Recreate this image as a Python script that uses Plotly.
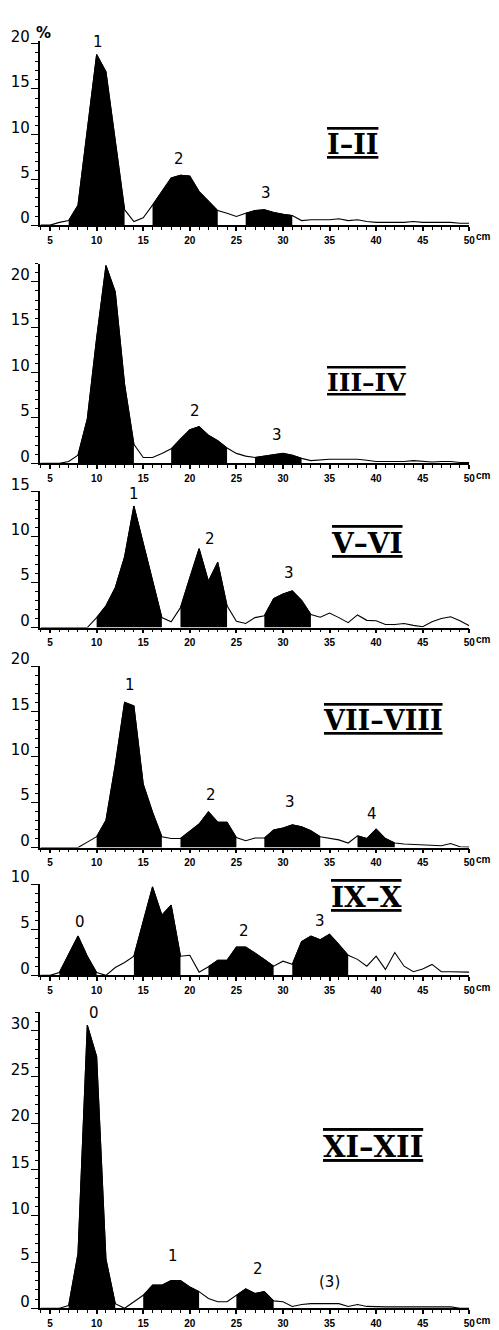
import plotly.graph_objects as go

# ---------------- data ----------------
LENGTH_CM = list(range(4, 51))  # length classes 4..50 cm

PERIODS = ["I–II", "III–IV", "V–VI", "VII–VIII", "IX–X", "XI–XII"]

pct_I_II = [0, 0, 0.3, 0.5, 2.2, 10.5, 18.8, 16.9, 9.0, 1.7, 0.4, 0.8, 2.2, 3.7, 5.2, 5.5, 5.4,
            3.7, 2.7, 1.6, 1.3, 0.95, 1.3, 1.6, 1.7, 1.4, 1.2, 1.05, 0.5, 0.6, 0.6, 0.6, 0.7,
            0.5, 0.6, 0.4, 0.3, 0.3, 0.3, 0.3, 0.4, 0.3, 0.3, 0.3, 0.3, 0.2, 0.2]
pct_III_IV = [0, 0, 0, 0.2, 0.9, 4.9, 13.8, 21.8, 18.9, 8.7, 2.1, 0.65, 0.65, 1.1, 1.6, 2.7, 3.7,
              4.05, 3.1, 2.5, 1.7, 1.1, 0.8, 0.65, 0.8, 1.0, 1.1, 0.9, 0.55, 0.3, 0.4, 0.45, 0.45,
              0.45, 0.45, 0.35, 0.2, 0.2, 0.2, 0.2, 0.3, 0.2, 0.15, 0.2, 0.2, 0.1, 0.1]
pct_V_VI = [0, 0, 0, 0, 0, 0, 1.1, 2.4, 4.4, 7.8, 13.4, 9.3, 5.2, 1.1, 0.65, 2.2, 5.5,
            8.7, 5.1, 7.2, 2.4, 0.7, 0.45, 1.1, 1.3, 3.2, 3.7, 4.05, 3.0, 1.45, 1.15, 1.6, 1.1,
            0.55, 1.4, 0.8, 0.75, 0.35, 0.35, 0.45, 0.25, 0.1, 0.65, 1.0, 1.2, 0.75, 0.2]
pct_VII_VIII = [0, 0, 0, 0, 0, 0.6, 1.2, 3.0, 9.1, 16.0, 15.6, 7.0, 3.9, 1.2, 1.0, 1.0, 1.8,
                2.6, 3.95, 2.8, 2.8, 1.1, 0.75, 1.05, 1.05, 1.95, 2.15, 2.5, 2.3, 1.85, 1.2, 1.0, 0.85,
                0.5, 1.3, 1.0, 2.05, 1.0, 0.5, 0.4, 0.35, 0.3, 0.2, 0.2, 0.45, 0.1, 0.05]
pct_IX_X = [0, 0, 0.3, 2.3, 4.3, 2.1, 0.3, 0, 0.85, 1.4, 2.1, 5.9, 9.7, 6.6, 7.7, 2.1, 2.2,
            0.35, 0.95, 1.65, 1.65, 3.1, 3.1, 2.45, 1.75, 1.0, 1.55, 1.2, 3.7, 4.3, 3.9, 4.5, 3.4,
            2.2, 1.75, 1.0, 2.1, 0.65, 2.5, 1.0, 0.4, 0.7, 1.2, 0.4, 0.4, 0.4, 0.35]
pct_XI_XII = [0, 0, 0, 0.3, 5.9, 30.6, 27.2, 5.3, 0.5, 0, 0.7, 1.4, 2.5, 2.5, 3.0, 3.0, 2.3,
              1.8, 1.05, 0.7, 0.7, 1.4, 2.1, 1.6, 1.8, 0.8, 0.7, 0.2, 0.4, 0.5, 0.5, 0.5, 0.5,
              0.2, 0.4, 0.2, 0.15, 0.15, 0.15, 0.15, 0.15, 0.15, 0.15, 0.15, 0.15, 0, 0]

# age-group (cohort) length ranges, cm, shaded black
groups_I_II = [(7, 13), (16, 23), (26, 31)]
groups_III_IV = [(8, 14), (18, 24), (27, 32)]
groups_V_VI = [(10, 17), (19, 24), (28, 33)]
groups_VII_VIII = [(10, 17), (19, 25), (28, 34), (38, 42)]
groups_IX_X = [(6, 10), (14, 19), (22, 29), (31, 37)]
groups_XI_XII = [(7, 12), (15, 21), (25, 29)]

labels_I_II = ["1", "2", "3"]
labels_III_IV = ["1", "2", "3"]
labels_V_VI = ["1", "2", "3"]
labels_VII_VIII = ["1", "2", "3", "4"]
labels_IX_X = ["0", "1", "2", "3"]
labels_XI_XII = ["0", "1", "2", "(3)"]

X_TICKS = [5, 10, 15, 20, 25, 30, 35, 40, 45, 50]

# ---------------- layout (pixels) ----------------
W, H = 499, 1330
X_LEFT_PX, X_RIGHT_PX = 40, 475
X_RANGE = [3.87, 50]

panels = [
    dict(y=pct_I_II, groups=groups_I_II, labels=labels_I_II, title=PERIODS[0],
         bottom=212, ymax=20.3, scale=9.2, yticks=[0, 5, 10, 15, 20],
         label_pos=[(10.2, 20.2), (18.8, 7.3), (28.2, 3.5)], title_px=(357, 130), title_size=27),
    dict(y=pct_III_IV, groups=groups_III_IV, labels=labels_III_IV, title=PERIODS[1],
         bottom=453.5, ymax=22, scale=9.2, yticks=[0, 5, 10, 15, 20],
         label_pos=[(11.3, 23.0), (20.6, 5.8), (29.4, 3.1)], title_px=(371, 372), title_size=25),
    dict(y=pct_V_VI, groups=groups_V_VI, labels=labels_V_VI, title=PERIODS[2],
         bottom=620, ymax=15, scale=9.2, yticks=[0, 5, 10, 15],
         label_pos=[(14.0, 14.7), (22.2, 9.8), (30.7, 6.0)], title_px=(371, 535), title_size=28),
    dict(y=pct_VII_VIII, groups=groups_VII_VIII, labels=labels_VII_VIII, title=PERIODS[3],
         bottom=843, ymax=20, scale=9.2, yticks=[0, 5, 10, 15, 20],
         label_pos=[(13.6, 17.9), (22.3, 5.8), (30.8, 5.0), (39.6, 3.7)], title_px=(388, 714), title_size=27),
    dict(y=pct_IX_X, groups=groups_IX_X, labels=labels_IX_X, title=PERIODS[4],
         bottom=972.5, ymax=10, scale=9.25, yticks=[0, 5, 10],
         label_pos=[(8.2, 5.8), (16.9, 10.3), (25.8, 4.9), (34.0, 6.0)], title_px=(371, 894), title_size=28),
    dict(y=pct_XI_XII, groups=groups_XI_XII, labels=labels_XI_XII, title=PERIODS[5],
         bottom=1310, ymax=32, scale=9.38, yticks=[0, 5, 10, 15, 20, 25, 30],
         label_pos=[(9.7, 31.9), (18.2, 5.6), (27.3, 4.2), (35.0, 2.8)], title_px=(378, 1147), title_size=29),
]

fig = go.Figure()
annotations = []
layout_axes = {}

for i, p in enumerate(panels, start=1):
    xa = "x" if i == 1 else f"x{i}"
    ya = "y" if i == 1 else f"y{i}"
    # shaded age groups
    for (a, b) in p["groups"]:
        xs = [x for x in LENGTH_CM if a <= x <= b]
        ys = [v for x, v in zip(LENGTH_CM, p["y"]) if a <= x <= b]
        fig.add_trace(go.Scatter(x=xs, y=ys, mode="lines", fill="tozeroy",
                                 fillcolor="black", line=dict(color="black", width=1),
                                 xaxis=xa, yaxis=ya, showlegend=False, hoverinfo="skip"))
    # frequency polygon
    fig.add_trace(go.Scatter(x=LENGTH_CM, y=p["y"], mode="lines",
                             line=dict(color="black", width=1.1),
                             xaxis=xa, yaxis=ya, showlegend=False))

    top_px = p["bottom"] - p["ymax"] * p["scale"]
    dom = [1 - p["bottom"] / H, 1 - top_px / H]
    xkey = "xaxis" if i == 1 else f"xaxis{i}"
    ykey = "yaxis" if i == 1 else f"yaxis{i}"
    layout_axes[xkey] = dict(
        domain=[X_LEFT_PX / W, X_RIGHT_PX / W], range=X_RANGE, anchor=ya,
        showgrid=False, zeroline=False, showline=True, linecolor="black", linewidth=1.6,
        tickmode="array", tickvals=X_TICKS, ticktext=[str(t) for t in X_TICKS],
        ticks="outside", ticklen=4, tickwidth=1.5, tickcolor="black",
        minor=dict(dtick=1, tick0=0, ticks="outside", ticklen=3, tickwidth=1.3, tickcolor="black"),
        tickfont=dict(family="Liberation Sans", size=10, color="black", weight="bold"),
        ticklabelstandoff=1,
    )
    layout_axes[ykey] = dict(
        domain=dom, range=[0, p["ymax"]], anchor=xa,
        showgrid=False, zeroline=False, showline=True, linecolor="black", linewidth=1.6,
        tickmode="array", tickvals=p["yticks"], ticktext=[str(t) for t in p["yticks"]],
        ticks="outside", ticklen=7, tickwidth=1.3, tickcolor="black",
        minor=dict(dtick=1, tick0=0, ticks="outside", ticklen=3, tickwidth=1.2, tickcolor="black"),
        tickfont=dict(family="DejaVu Sans", size=15, color="black"),
        ticklabelshift=-7, ticklabelstandoff=-2,
    )
    # age labels
    for txt, (lx, ly) in zip(p["labels"], p["label_pos"]):
        annotations.append(dict(x=lx, y=ly, xref=xa, yref=ya, text=txt, showarrow=False,
                                xanchor="center", yanchor="middle",
                                font=dict(family="DejaVu Sans", size=15, color="black")))
    # period title (Roman numerals with over/under bars)
    tx, ty = p["title_px"]
    annotations.append(dict(
        x=tx / W, y=1 - ty / H, xref="paper", yref="paper", showarrow=False,
        xanchor="center", yanchor="middle",
        text=f'<span style="text-decoration:overline underline">{p["title"]}</span>',
        font=dict(family="DejaVu Serif", size=p["title_size"], color="black", weight="bold")))
    # "cm" unit after 50
    annotations.append(dict(x=(X_RIGHT_PX + 5) / W, y=1 - (p["bottom"] + 12) / H,
                            xref="paper", yref="paper", xanchor="left", yanchor="middle",
                            showarrow=False, text="cm",
                            font=dict(family="Liberation Sans", size=10, color="black", weight="bold")))

# "%" after top tick of first panel
annotations.append(dict(x=44 / W, y=1 - 17 / H, xref="paper", yref="paper", showarrow=False,
                        xanchor="center", yanchor="middle", text="%",
                        font=dict(family="DejaVu Sans", size=15, color="black", weight="bold")))

fig.update_layout(
    width=W, height=H, margin=dict(l=0, r=0, t=0, b=0),
    paper_bgcolor="white", plot_bgcolor="white",
    annotations=annotations, showlegend=False,
    **layout_axes,
)

fig.write_html("out.html")
